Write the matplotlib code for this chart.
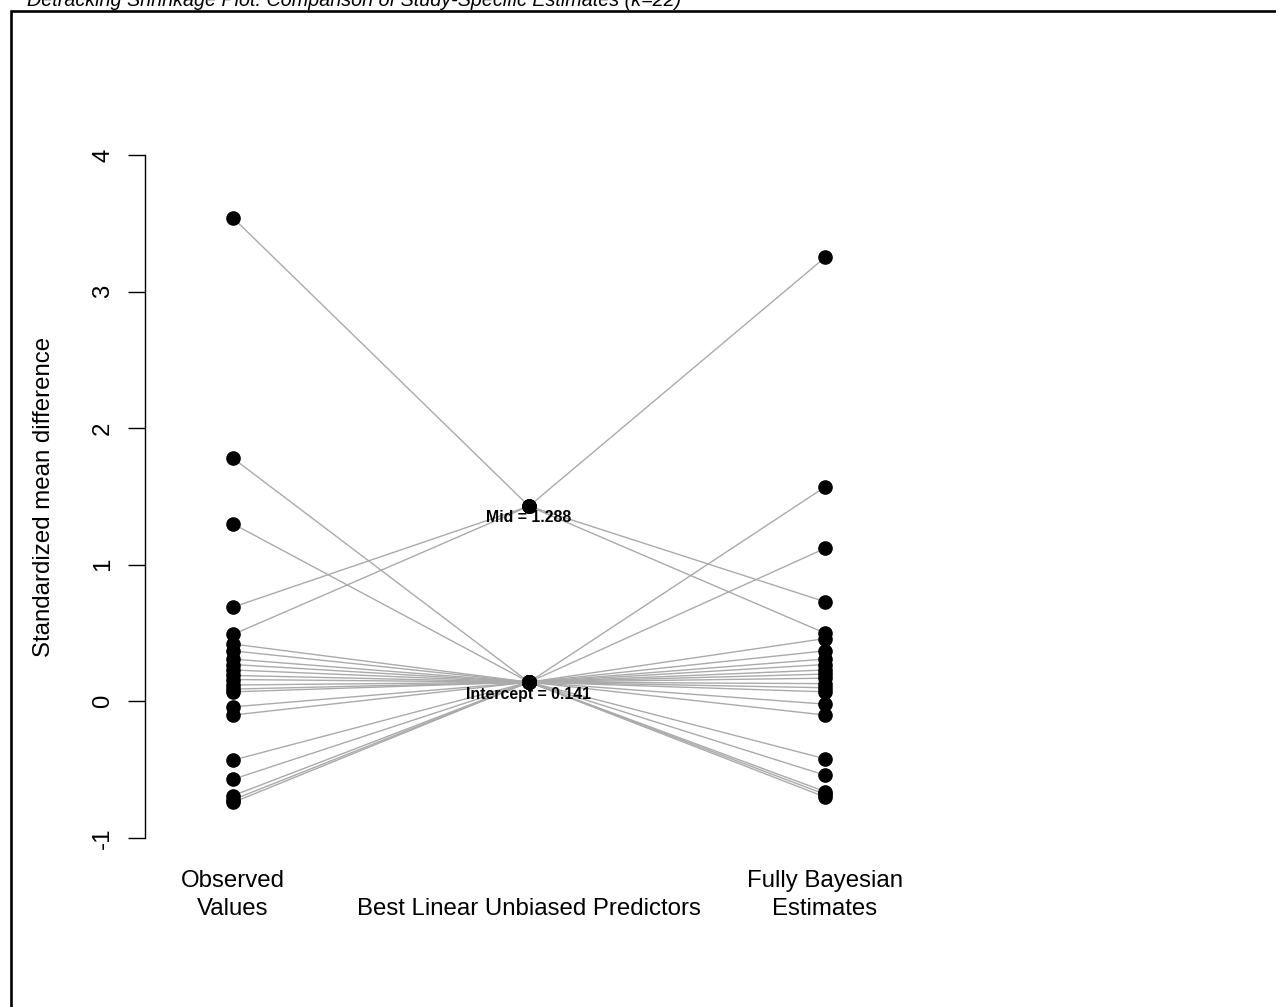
import matplotlib.pyplot as plt
from matplotlib.lines import Line2D

plt.rcParams["font.family"] = ["Liberation Sans", "DejaVu Sans"]
plt.rcParams["axes.unicode_minus"] = False

# study-specific estimates (k = 22)
observed = [3.54, 1.78, 1.30, 0.69, 0.49, 0.42, 0.37, 0.31, 0.27, 0.23, 0.19,
            0.16, 0.12, 0.09, 0.07, -0.04, -0.10, -0.43, -0.57, -0.69, -0.72, -0.74]
bayes = [3.25, 1.57, 1.12, 0.73, 0.50, 0.46, 0.37, 0.31, 0.27, 0.23, 0.20,
         0.17, 0.13, 0.10, 0.07, -0.02, -0.10, -0.42, -0.54, -0.66, -0.68, -0.70]
mid = [1, 0, 0, 1, 1, 0, 0, 0, 0, 0, 0,
       0, 0, 0, 0, 0, 0, 0, 0, 0, 0, 0]

intercept = 0.141
mid_coef = 1.288
blup = [intercept + mid_coef * m for m in mid]

col_labels = ["Observed\nValues", "Best Linear Unbiased Predictors", "Fully Bayesian\nEstimates"]
yticks = [-1, 0, 1, 2, 3, 4]

W, H = 1276, 1007
fig = plt.figure(figsize=(W / 100, H / 100), dpi=100)
ax = fig.add_axes([145 / W, (H - 838) / H, (913 - 145) / W, (838 - 155) / H])

for o, b, f in zip(observed, blup, bayes):
    ax.plot([1, 2, 3], [o, b, f], color="#aaaaaa", lw=1.0, zorder=1, clip_on=False)
for i, col in enumerate([observed, blup, bayes]):
    ax.plot([i + 1] * len(col), col, "o", color="black", ms=9.5, zorder=3, clip_on=False)

ax.annotate(f"Mid = {mid_coef:.3f}", xy=(2, intercept + mid_coef), xytext=(0, -8),
            textcoords="offset points", ha="center", va="center",
            fontsize=11.4, fontweight="bold", zorder=4)
ax.annotate(f"Intercept = {intercept:.3f}", xy=(2, intercept), xytext=(0, -9),
            textcoords="offset points", ha="center", va="center",
            fontsize=11.4, fontweight="bold", zorder=4)

ax.set_xlim(1 - 88 / 296, 3 + 88 / 296)
ax.set_ylim(-1, 4)
ax.set_xticks([])
ax.set_yticks(yticks)
ax.tick_params(axis="y", length=12.2, width=1.0, pad=10, labelsize=17.3, labelrotation=90)
plt.setp(ax.get_yticklabels(), va="center")
for s in ["top", "right", "bottom"]:
    ax.spines[s].set_visible(False)
ax.spines["left"].set_linewidth(1.0)

for i, lab in enumerate(col_labels):
    ax.text(i + 1, -1.603, lab, ha="center", va="bottom", fontsize=17.3,
            linespacing=1.35, multialignment="center", clip_on=False)

fig.text(44 / W, 1 - 497 / H, "Standardized mean difference", rotation=90,
         ha="center", va="center", fontsize=17.3)

fig.text(27 / W, 1 - 6 / H,
         "Detracking Shrinkage Plot: Comparison of Study-Specific Estimates (k=22)",
         ha="left", va="baseline", fontsize=14.2, style="italic")

# outer frame
fig.add_artist(Line2D([11 / W, 11 / W, 1.01], [-0.01, 1 - 11 / H, 1 - 11 / H],
                      transform=fig.transFigure, color="black", lw=1.9,
                      solid_joinstyle="miter"))

fig.savefig("out.png", dpi=100)
